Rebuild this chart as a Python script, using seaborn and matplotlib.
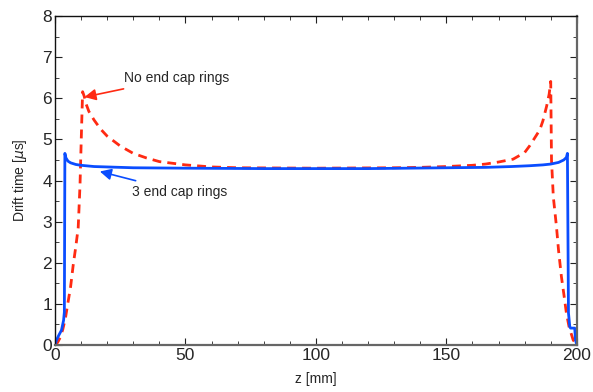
import pandas as pd
import matplotlib
matplotlib.use('Agg')
import matplotlib.pyplot as plt
from matplotlib.ticker import MultipleLocator
import seaborn as sns

# data (z in mm, drift time in us)
z_nocap = [0, 1, 2, 3, 4, 4.9, 6, 7, 8, 8.9, 9.6, 10.2, 10.6, 11.2, 12, 13, 15, 17.5, 20, 25, 30,
           35, 40, 50, 60, 70, 100, 130, 140, 150, 160, 165, 170, 175.6, 180, 182, 184, 185.8,
           187, 188.4, 189.4, 190, 190.3, 191, 192.2, 193, 194.1, 195, 196, 197, 198.6, 200]
t_nocap = [0, 0.06, 0.18, 0.38, 0.65, 1.0, 1.42, 1.95, 2.4, 2.85, 3.9, 5.3, 6.16, 6.05, 5.85, 5.68,
           5.47, 5.25, 5.08, 4.84, 4.66, 4.55, 4.46, 4.38, 4.33, 4.31, 4.3, 4.31, 4.32, 4.34, 4.37,
           4.4, 4.45, 4.52, 4.68, 4.85, 5.05, 5.23, 5.45, 5.8, 6.1, 6.41, 4.5, 3.6, 2.88, 2.3,
           1.66, 1.25, 0.78, 0.45, 0.12, 0]

z_3cap = [0, 0.6, 1.5, 2.5, 3.3, 3.6, 3.8, 4.2, 5, 6, 8, 10, 15, 20, 30, 50, 80, 120, 150, 165,
          175, 182, 187, 190, 193, 195, 196, 196.4, 196.8, 197.3, 197.6, 199.2, 199.5, 200]
t_3cap = [0, 0.12, 0.24, 0.36, 0.6, 0.8, 4.66, 4.55, 4.47, 4.43, 4.39, 4.37, 4.34, 4.33, 4.31,
          4.3, 4.29, 4.29, 4.31, 4.32, 4.34, 4.36, 4.38, 4.4, 4.44, 4.5, 4.56, 4.66, 0.78, 0.45,
          0.41, 0.41, 0.12, 0]

df_nocap = pd.DataFrame({'z': z_nocap, 't': t_nocap})
df_3cap = pd.DataFrame({'z': z_3cap, 't': t_3cap})

sns.set_style('ticks')
plt.rcParams['font.family'] = ['Liberation Sans', 'DejaVu Sans']
plt.rcParams['mathtext.fontset'] = 'dejavusans'

fig = plt.figure(figsize=(5.93, 3.92), dpi=100)
ax = fig.add_axes([0.0927, 0.12, 0.88, 0.839])

sns.lineplot(data=df_nocap, x='z', y='t', ax=ax, color='#ff2a12', lw=2,
             linestyle=(0, (3.2, 2.2)), sort=False, estimator=None)
sns.lineplot(data=df_3cap, x='z', y='t', ax=ax, color='#0a4dff', lw=2,
             sort=False, estimator=None)

ax.set_xlim(0, 200)
ax.set_ylim(0, 8)
ax.xaxis.set_major_locator(MultipleLocator(50))
ax.xaxis.set_minor_locator(MultipleLocator(10))
ax.yaxis.set_major_locator(MultipleLocator(1))
ax.yaxis.set_minor_locator(MultipleLocator(0.5))
ax.tick_params(which='both', direction='in', top=True, right=True, color='#222222')
ax.tick_params(which='major', length=5, labelsize=12.5, pad=2)
ax.tick_params(which='minor', length=3)
ax.spines['top'].set_color('#111111')
ax.spines['left'].set_color('#111111')
ax.spines['top'].set_linewidth(1.0)
ax.spines['left'].set_linewidth(1.0)
ax.spines['bottom'].set_color('#666666')
ax.spines['right'].set_color('#666666')
ax.spines['bottom'].set_linewidth(1.6)
ax.spines['right'].set_linewidth(1.6)

ax.set_xlabel('z [mm]', fontsize=10, labelpad=7)
ax.set_ylabel(r'Drift time [$\mu$s]', fontsize=10, labelpad=10)

ax.annotate('No end cap rings', xy=(11.3, 6.03), xytext=(26.5, 6.5),
            fontsize=10, va='center', ha='left',
            arrowprops=dict(arrowstyle='-|>', color='#ff2a12', lw=1.2, mutation_scale=17,
                            shrinkA=3, shrinkB=0))
ax.annotate('3 end cap rings', xy=(17.2, 4.22), xytext=(29.5, 3.72),
            fontsize=10, va='center', ha='left',
            arrowprops=dict(arrowstyle='-|>', color='#0a4dff', lw=1.2, mutation_scale=17,
                            shrinkA=3, shrinkB=0))

fig.savefig('out.png', dpi=100)
